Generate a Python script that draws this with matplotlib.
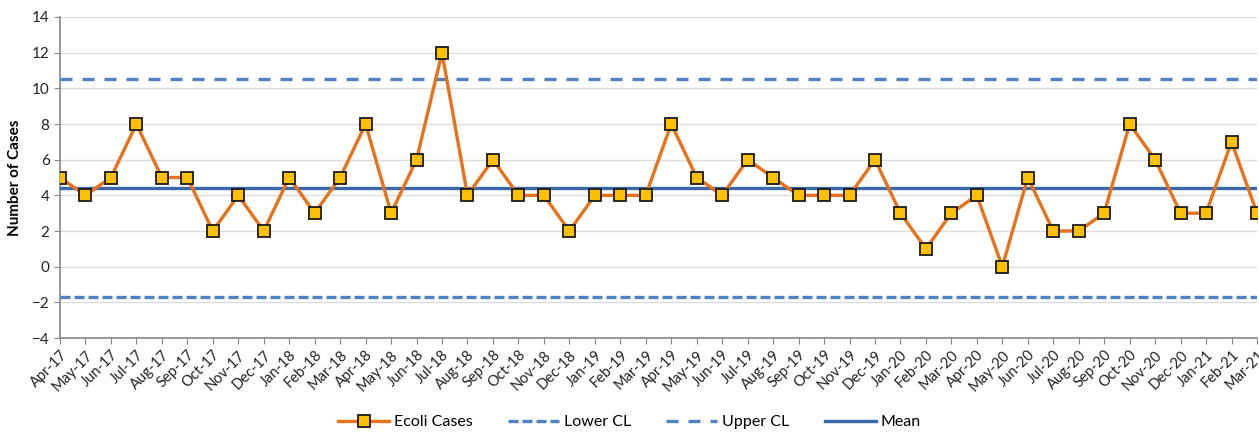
import numpy as np
import matplotlib.pyplot as plt

plt.rcParams['font.family'] = ['Lato', 'DejaVu Sans']

months = ['Apr-17', 'May-17', 'Jun-17', 'Jul-17', 'Aug-17', 'Sep-17', 'Oct-17', 'Nov-17',
          'Dec-17', 'Jan-18', 'Feb-18', 'Mar-18', 'Apr-18', 'May-18', 'Jun-18', 'Jul-18',
          'Aug-18', 'Sep-18', 'Oct-18', 'Nov-18', 'Dec-18', 'Jan-19', 'Feb-19', 'Mar-19',
          'Apr-19', 'May-19', 'Jun-19', 'Jul-19', 'Aug-19', 'Sep-19', 'Oct-19', 'Nov-19',
          'Dec-19', 'Jan-20', 'Feb-20', 'Mar-20', 'Apr-20', 'May-20', 'Jun-20', 'Jul-20',
          'Aug-20', 'Sep-20', 'Oct-20', 'Nov-20', 'Dec-20', 'Jan-21', 'Feb-21', 'Mar-21']
cases = [5, 4, 5, 8, 5, 5, 2, 4, 2, 5, 3, 5,
         8, 3, 6, 12, 4, 6, 4, 4, 2, 4, 4, 4,
         8, 5, 4, 6, 5, 4, 4, 4, 6, 3, 1, 3,
         4, 0, 5, 2, 2, 3, 8, 6, 3, 3, 7, 3]
mean = np.mean(cases)
upper_cl = 10.55
lower_cl = -1.68

x = np.arange(len(months))

fig = plt.figure(figsize=(12.59, 4.32), dpi=100)
ax = fig.add_axes([60 / 1259, 1 - 338 / 432, 1197 / 1259, 321 / 432])

ax.plot(x, cases, color='#E8711A', lw=2.4, marker='s', ms=9,
        mfc='#FFC000', mec='#1a1a1a', mew=1.3, label='Ecoli Cases', zorder=5)
ax.plot(x, [lower_cl] * len(x), color='#4F81C4', lw=2.4, ls=(0, (3, 1.2)),
        label='Lower CL', zorder=3)
ax.plot(x, [upper_cl] * len(x), color='#4F81C4', lw=2.4, ls=(0, (3.6, 3)),
        label='Upper CL', zorder=3)
ax.plot(x, [mean] * len(x), color='#3A68A8', lw=2.4, label='Mean', zorder=4)

ax.set_xlim(0, len(x) - 1)
ax.set_ylim(-4, 14)
ax.set_yticks(np.arange(-4, 15, 2))
ax.set_xticks(x)
ax.set_xticklabels(months, rotation=45, ha='right', rotation_mode='anchor',
                   fontsize=10.5, color='#222222')
ax.tick_params(axis='y', labelsize=11, colors='#222222', length=4, color='#868686')
ax.tick_params(axis='x', length=4, color='#868686', pad=3)
ax.grid(axis='y', color='#DCDCDC', lw=1)
ax.set_axisbelow(True)

for side in ['top', 'right']:
    ax.spines[side].set_visible(False)
for side in ['left', 'bottom']:
    ax.spines[side].set_color('#868686')
    ax.spines[side].set_linewidth(1.2)

ax.set_ylabel('Number of Cases', fontsize=11, fontweight='bold')
ax.yaxis.set_label_coords(-38 / 1197, 0.5)

ax.legend(loc='center', bbox_to_anchor=(0.5, 1 - 422 / 432), bbox_transform=fig.transFigure,
          ncol=4, frameon=False, fontsize=11.5, handlelength=3.2,
          columnspacing=2.2, handletextpad=0.3)

fig.savefig('out.png', dpi=100)
